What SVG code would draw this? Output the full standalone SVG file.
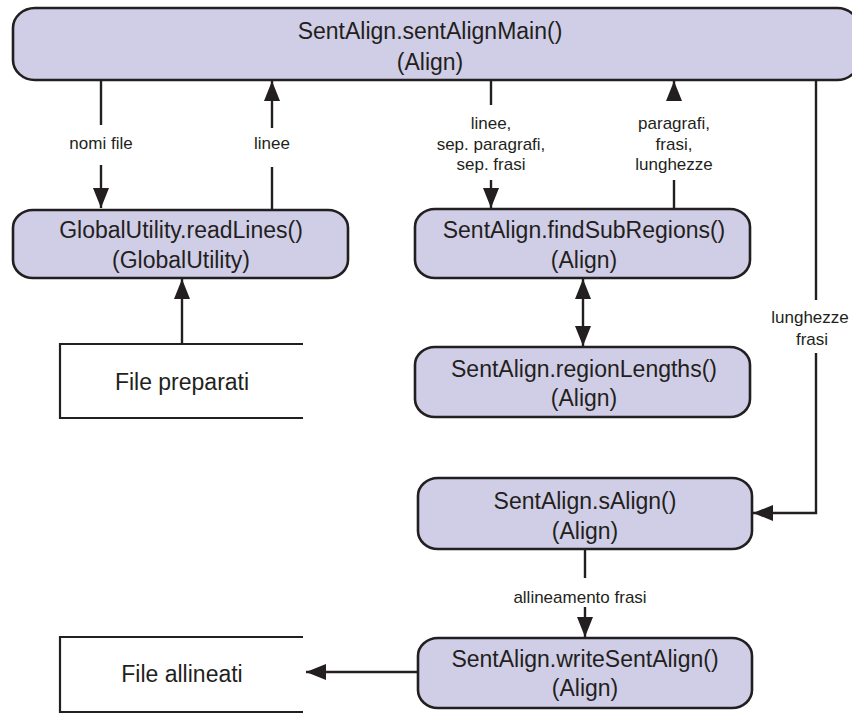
<svg xmlns="http://www.w3.org/2000/svg" width="852" height="713" viewBox="0 0 852 713">
  <style>
    .node { fill: #d0cde6; stroke: #231f20; stroke-width: 2.6; }
    .file { fill: none; stroke: #231f20; stroke-width: 2.2; }
    .conn { fill: none; stroke: #231f20; stroke-width: 2.4; }
    .nt { font-family: "Liberation Sans", Arial, sans-serif; font-size: 23px; fill: #231f20; text-anchor: middle; }
    .lb { font-family: "Liberation Sans", Arial, sans-serif; font-size: 17px; fill: #231f20; text-anchor: middle; }
  </style>
  <defs>
    <marker id="ah" viewBox="0 0 20 16" refX="20" refY="8" markerWidth="20" markerHeight="16" markerUnits="userSpaceOnUse" orient="auto-start-reverse">
      <path d="M0,0 L20,8 L0,16 Z" fill="#231f20"/>
    </marker>
  </defs>
  <rect width="852" height="713" fill="#ffffff"/>

  <!-- connectors -->
  <g id="connectors">
    <!-- sentAlignMain -> readLines : nomi file -->
    <path class="conn" d="M101,80 V125"/>
    <path class="conn" d="M101,165 V208" marker-end="url(#ah)"/>
    <!-- readLines -> sentAlignMain : linee -->
    <path class="conn" d="M272,210 V167"/>
    <path class="conn" d="M272,128 V81" marker-end="url(#ah)"/>
    <!-- sentAlignMain -> findSubRegions -->
    <path class="conn" d="M491,80 V105"/>
    <path class="conn" d="M491,180 V208" marker-end="url(#ah)"/>
    <!-- findSubRegions -> sentAlignMain -->
    <path class="conn" d="M674,209 V180"/>
    <path class="conn" d="M674,100 V81" marker-end="url(#ah)"/>
    <!-- sentAlignMain -> sAlign : lunghezze frasi -->
    <path class="conn" d="M816,80 V300"/>
    <path class="conn" d="M816,353 V513 H753" marker-end="url(#ah)"/>
    <!-- File preparati -> readLines -->
    <path class="conn" d="M182,344 V279" marker-end="url(#ah)"/>
    <!-- findSubRegions <-> regionLengths -->
    <path class="conn" d="M583,279 V346" marker-start="url(#ah)" marker-end="url(#ah)"/>
    <!-- sAlign -> writeSentAlign : allineamento frasi -->
    <path class="conn" d="M585,549 V578"/>
    <path class="conn" d="M585,607 V637" marker-end="url(#ah)"/>
    <!-- writeSentAlign -> File allineati -->
    <path class="conn" d="M418,672 H306" marker-end="url(#ah)"/>

    <text class="lb" x="101" y="149">nomi file</text>
    <text class="lb" x="272" y="149">linee</text>
    <text class="lb" x="491" y="129">linee,</text>
    <text class="lb" x="491" y="150">sep. paragrafi,</text>
    <text class="lb" x="491" y="170">sep. frasi</text>
    <text class="lb" x="674" y="129">paragrafi,</text>
    <text class="lb" x="674" y="150">frasi,</text>
    <text class="lb" x="674" y="170">lunghezze</text>
    <text class="lb" x="810" y="323">lunghezze</text>
    <text class="lb" x="812" y="345">frasi</text>
    <text class="lb" x="580" y="603">allineamento frasi</text>
  </g>

  <g id="sentAlignMain">
    <rect class="node" x="13" y="8" width="846" height="72" rx="22" ry="20"/>
    <text class="nt" x="430" y="39">SentAlign.sentAlignMain()</text>
    <text class="nt" x="430" y="70">(Align)</text>
  </g>

  <g id="readLines">
    <rect class="node" x="13" y="210" width="335" height="68" rx="20" ry="18"/>
    <text class="nt" x="181" y="238">GlobalUtility.readLines()</text>
    <text class="nt" x="181" y="268">(GlobalUtility)</text>
  </g>

  <g id="filePreparati">
    <path class="file" d="M303,344 H60 V418 H303"/>
    <text class="nt" x="182" y="390">File preparati</text>
  </g>

  <g id="findSubRegions">
    <rect class="node" x="415" y="209" width="335" height="69" rx="20" ry="18"/>
    <text class="nt" x="584" y="238">SentAlign.findSubRegions()</text>
    <text class="nt" x="584" y="268">(Align)</text>
  </g>

  <g id="regionLengths">
    <rect class="node" x="415" y="347" width="335" height="70" rx="20" ry="18"/>
    <text class="nt" x="584" y="377">SentAlign.regionLengths()</text>
    <text class="nt" x="584" y="406">(Align)</text>
  </g>

  <g id="sAlign">
    <rect class="node" x="418" y="478" width="334" height="71" rx="20" ry="18"/>
    <text class="nt" x="585" y="509">SentAlign.sAlign()</text>
    <text class="nt" x="585" y="539">(Align)</text>
  </g>

  <g id="writeSentAlign">
    <rect class="node" x="418" y="638" width="334" height="70" rx="20" ry="18"/>
    <text class="nt" x="585" y="667">SentAlign.writeSentAlign()</text>
    <text class="nt" x="585" y="696">(Align)</text>
  </g>

  <g id="fileAllineati">
    <path class="file" d="M303,637 H60 V712 H303"/>
    <text class="nt" x="182" y="682">File allineati</text>
  </g>
</svg>
